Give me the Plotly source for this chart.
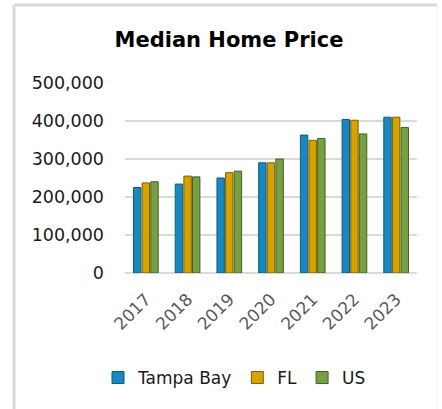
import plotly.graph_objects as go

years = ["2017", "2018", "2019", "2020", "2021", "2022", "2023"]
tampa_bay = [225000, 234000, 250000, 290000, 363000, 404000, 410000]
fl = [237000, 255000, 264000, 290000, 349000, 402000, 410000]
us = [240000, 253000, 268000, 300000, 354000, 366000, 383000]

series = [
    ("Tampa Bay", tampa_bay, "#1a87be", "#0b5b85"),
    ("FL", fl, "#d6a200", "#7d5f00"),
    ("US", us, "#76a043", "#3d6222"),
]

fig = go.Figure()
for name, vals, col, edge in series:
    fig.add_trace(go.Bar(
        x=years, y=vals, name=name,
        marker=dict(color=col, line=dict(color=edge, width=1)),
    ))

W, H = 442, 409
L, R, T, B = 125, 25, 83, 136
pw = W - L - R
ph = H - T - B

def px2x(p):
    return (p - L) / pw

def py2y(p):
    return (H - B - p) / ph

fig.update_layout(
    width=W, height=H,
    margin=dict(l=L, r=R, t=T, b=B, autoexpand=False),
    paper_bgcolor="white", plot_bgcolor="white",
    barmode="group", bargap=0.38, bargroupgap=0.14,
    font=dict(family="DejaVu Sans", size=17, color="#1a1a1a"),
    title=dict(text="<b>Median Home Price</b>", x=229 / W, xanchor="center",
               xref="container", y=1 - 40 / H, yanchor="middle", yref="container",
               font=dict(family="DejaVu Sans", size=21, color="#000000")),
    xaxis=dict(tickangle=-45, tickfont=dict(size=17, color="#595959"),
               showgrid=False, showline=False, ticks="", automargin=False,
               ticklabelstandoff=12),
    yaxis=dict(range=[0, 500000], dtick=100000, tickformat=",",
               showgrid=True, gridcolor="#d9d9d9", gridwidth=2,
               zeroline=True, zerolinecolor="#d9d9d9", zerolinewidth=2,
               tickfont=dict(size=17.5, color="#1a1a1a"), ticklabelstandoff=20,
               automargin=False),
    legend=dict(orientation="h", x=98 / W, xref="container", xanchor="left",
                y=1 - 378 / H, yref="container", yanchor="middle",
                font=dict(size=17, color="#1a1a1a"), itemwidth=30),
    shapes=[
        dict(type="line", xref="paper", yref="paper", x0=px2x(14), x1=px2x(14),
             y0=py2y(5), y1=py2y(412), line=dict(color="#d9d9d9", width=3)),
        dict(type="line", xref="paper", yref="paper", x0=px2x(14), x1=px2x(437),
             y0=py2y(5), y1=py2y(5), line=dict(color="#d9d9d9", width=3)),
        dict(type="line", xref="paper", yref="paper", x0=px2x(437), x1=px2x(437),
             y0=py2y(5), y1=py2y(412), line=dict(color="#eeeeee", width=1)),
    ],
)

fig.write_html("out.html", config={"displayModeBar": False},
               post_script="document.body.style.margin='0';")
